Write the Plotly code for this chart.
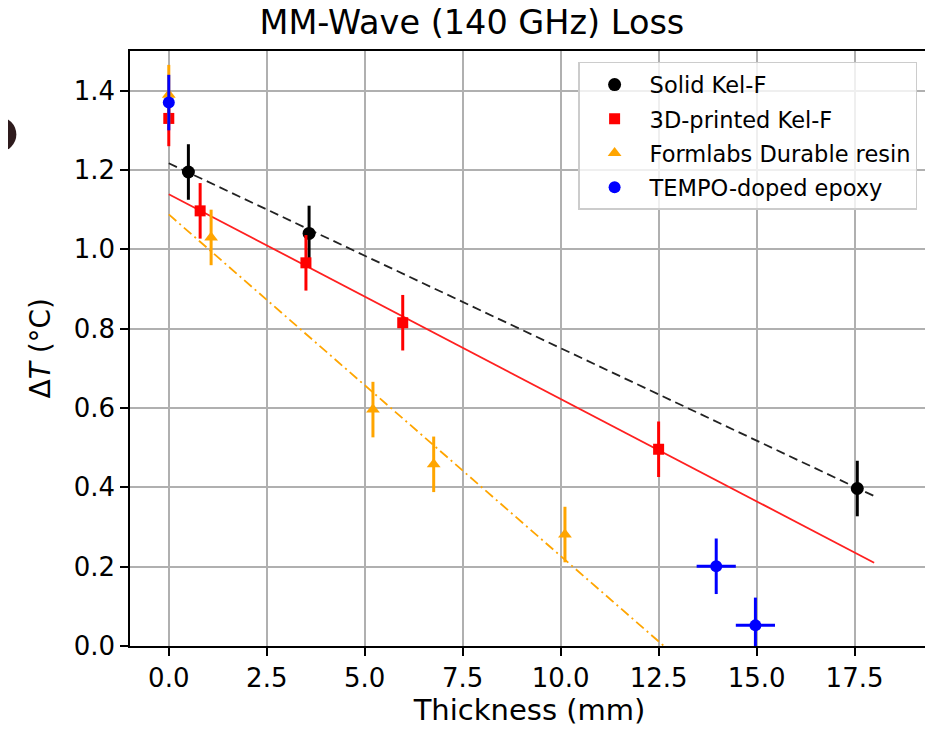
import plotly.graph_objects as go

# ---- data ----
solid_x = [0.5, 3.58, 17.57]
solid_y = [1.195, 1.04, 0.397]
solid_err = [0.07, 0.07, 0.07]

printed_x = [0.0, 0.8, 3.5, 5.97, 12.5]
printed_y = [1.33, 1.097, 0.966, 0.815, 0.496]
printed_err = [0.07, 0.07, 0.07, 0.07, 0.07]

formlabs_x = [0.0, 1.08, 5.21, 6.76, 10.11]
formlabs_y = [1.39, 1.03, 0.596, 0.458, 0.281]
formlabs_err = [0.075, 0.07, 0.07, 0.07, 0.07]

tempo_x = [0.0, 13.97, 14.97]
tempo_y = [1.37, 0.201, 0.052]
tempo_yerr = [0.07, 0.07, 0.07]
tempo_xerr = [0.0, 0.5, 0.5]

fit_x = [0.0, 18.0]
fit_solid = [1.217, 0.378]
fit_printed = [1.139, 0.21]
fit_formlabs = [1.088, -0.462]

x_ticks = [0, 2.5, 5, 7.5, 10, 12.5, 15, 17.5]
y_ticks = [0, 0.2, 0.4, 0.6, 0.8, 1.0, 1.2, 1.4]

FONT = "DejaVu Sans"

fig = go.Figure()

# fit lines
fig.add_trace(go.Scatter(x=fit_x, y=fit_solid, mode="lines", showlegend=False,
                         line=dict(color="#222222", width=1.8, dash="9px,5px")))
fig.add_trace(go.Scatter(x=fit_x, y=fit_printed, mode="lines", showlegend=False,
                         line=dict(color="#ff2020", width=1.8)))
fig.add_trace(go.Scatter(x=fit_x, y=fit_formlabs, mode="lines", showlegend=False,
                         line=dict(color="#ffa500", width=1.8, dash="10px,4px,2px,4px")))

# data
fig.add_trace(go.Scatter(x=solid_x, y=solid_y, mode="markers", name="Solid Kel-F", legendgroup="a",
                         marker=dict(color="black", size=13, symbol="circle"),
                         error_y=dict(type="data", array=solid_err, color="black", thickness=3, width=0)))
fig.add_trace(go.Scatter(x=printed_x, y=printed_y, mode="markers", name="3D-printed Kel-F", legendgroup="b",
                         marker=dict(color="#ff0000", size=11, symbol="square"),
                         error_y=dict(type="data", array=printed_err, color="#ff0000", thickness=3, width=0)))
fig.add_trace(go.Scatter(x=formlabs_x, y=formlabs_y, mode="markers", name="Formlabs Durable resin", legendgroup="c",
                         marker=dict(color="#ffa500", size=12, symbol="triangle-up"),
                         error_y=dict(type="data", array=formlabs_err, color="#ffa500", thickness=3, width=0)))
fig.add_trace(go.Scatter(x=tempo_x, y=tempo_y, mode="markers", name="TEMPO-doped epoxy", legendgroup="d",
                         marker=dict(color="#0000ff", size=12, symbol="circle"),
                         error_y=dict(type="data", array=tempo_yerr, color="#0000ff", thickness=3, width=0),
                         error_x=dict(type="data", array=tempo_xerr, color="#0000ff", thickness=3, width=0)))

OFF = 8  # page body margin
L, R, T, B = 129.5 - OFF, 931 - OFF, 51 - OFF, 646.5 - OFF
W, H = 925, 721
pw, ph = R - L, B - T


def px(x):
    return (x - OFF - L) / pw


def py(y):
    return (B - (y - OFF)) / ph


fig.update_layout(
    width=W, height=H,
    margin=dict(l=L, r=W - R, t=T, b=H - B, pad=0),
    paper_bgcolor="white", plot_bgcolor="white",
    font=dict(family=FONT, color="black"),
    title=dict(text="MM-Wave (140 GHz) Loss", x=px(531.5), xanchor="center",
               y=1 - (22 - OFF) / H, yanchor="middle", yref="container",
               font=dict(size=33.5, family=FONT, color="black")),
    xaxis=dict(range=[-0.99, 19.4], tickvals=x_ticks, tickformat=".1f",
               showgrid=True, gridcolor="#b0b0b0", gridwidth=1.5,
               showline=True, mirror=True, linecolor="black", linewidth=1.5,
               ticks="outside", ticklen=8, tickwidth=1.5, tickcolor="black",
               tickfont=dict(size=26, family=FONT), zeroline=False,
               title=dict(text="Thickness (mm)", font=dict(size=29, family=FONT), standoff=8)),
    yaxis=dict(range=[0, 1.5], tickvals=y_ticks, tickformat=".1f",
               showgrid=True, gridcolor="#b0b0b0", gridwidth=1.5,
               showline=True, mirror=True, linecolor="black", linewidth=1.5,
               ticks="outside", ticklen=8, tickwidth=1.5, tickcolor="black",
               tickfont=dict(size=26, family=FONT), zeroline=False),
    legend=dict(x=px(579), y=py(62), xanchor="left", yanchor="top",
                bgcolor="rgba(255,255,255,0.8)", bordercolor="#cccccc", borderwidth=1.5,
                font=dict(size=22.5, family=FONT), itemwidth=60, tracegroupgap=2),
    annotations=[dict(text="Δ<i>T</i> (°C)", xref="paper", yref="paper",
                      x=px(40), y=py(348), xanchor="center", yanchor="middle",
                      textangle=-90, showarrow=False,
                      font=dict(size=28, family=FONT, color="black"))],
    shapes=[dict(type="circle", xref="paper", yref="paper",
                 x0=px(-19.5), x1=px(15.5), y0=py(152), y1=py(117),
                 fillcolor="#2e1b1d", line=dict(width=0), layer="above")],
)

fig.write_html("out.html")
